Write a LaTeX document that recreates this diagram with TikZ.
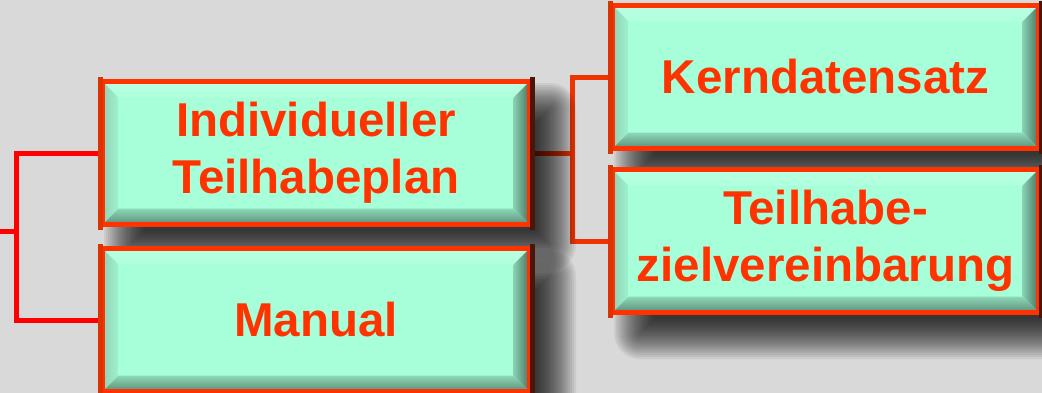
\documentclass[tikz,border=0pt]{standalone}
\usepackage{fontspec}
\setmainfont{Liberation Sans}
\usetikzlibrary{calc}

\definecolor{bgcol}{HTML}{D9D9D9}
\definecolor{face}{HTML}{A6FFD9}
\definecolor{boxedge}{HTML}{FF3300}
\definecolor{boxedgeleft}{HTML}{DD3300}
\definecolor{boxedgeright}{HTML}{4A1608}
\definecolor{label}{HTML}{FF3300}
\definecolor{wireleft}{HTML}{FF0000}
\definecolor{wireright}{HTML}{EE3300}

\pgfdeclarelayer{bg}
\pgfdeclarelayer{wires}
\pgfdeclarelayer{shade}
\pgfsetlayers{bg,wires,shade,main}

\newcommand{\bev}{16pt}

% soft drop shadow: a stack of faint rectangles, shifted right and down
\newcommand{\softshadow}[1]{%
  \begin{pgfonlayer}{shade}
    \foreach \i in {0,...,19}{
      \pgfmathsetmacro{\e}{20-40*\i/19}
      \pgfmathsetmacro{\rc}{max(\e+6,1)}
      \fill[black, fill opacity=0.062, rounded corners=\rc pt]
        ($(#1.north west)+(24-\e,24-\e)$) rectangle ($(#1.south east)+(24+\e,24+\e)$);
    }
  \end{pgfonlayer}}

\tikzset{
  bevelbox/.style={
    draw=boxedge, line width=5pt, fill=face,
    minimum width=427pt, minimum height=143pt, inner sep=0pt,
    text=label, align=center,
    font=\bfseries\fontsize{47.5}{57}\selectfont,
    path picture={
      \path (path picture bounding box.north west) coordinate (bnw)
            (path picture bounding box.north east) coordinate (bne)
            (path picture bounding box.south east) coordinate (bse)
            (path picture bounding box.south west) coordinate (bsw);
      % top face
      \shade[top color=face!80!white, middle color=white!85!cyan, bottom color=face!90!white]
        (bnw) -- (bne) -- ($(bne)+(-\bev,-\bev)$) -- ($(bnw)+(\bev,-\bev)$) -- cycle;
      % left face
      \shade[left color=face!80!black!90!white, right color=face!95!black]
        (bnw) -- ($(bnw)+(\bev,-\bev)$) -- ($(bsw)+(\bev,\bev)$) -- (bsw) -- cycle;
      % right face
      \shade[left color=face!82!black, right color=face!45!black]
        (bne) -- (bse) -- ($(bse)+(-\bev,\bev)$) -- ($(bne)+(-\bev,-\bev)$) -- cycle;
      % bottom face
      \shade[top color=face!85!black, bottom color=face!55!black]
        (bsw) -- ($(bsw)+(\bev,\bev)$) -- ($(bse)+(-\bev,\bev)$) -- (bse) -- cycle;
    }
  },
  edgeshade/.style={line width=5pt, line cap=rect},
  wire/.style={line width=5pt, line cap=rect, line join=miter}
}

\begin{document}
\begin{tikzpicture}[x=1pt, y=-1pt]
  \useasboundingbox (0,0) rectangle (1042,392);
  \begin{pgfonlayer}{bg}
    \fill[bgcol] (-10,-10) rectangle (1052,402);
  \end{pgfonlayer}

  % boxes
  \node[bevelbox] (itp) at (316,153) {Individueller\\Teilhabeplan};
  \draw[edgeshade, boxedgeleft] (itp.north west) -- (itp.south west);
  \draw[edgeshade, boxedgeright] (itp.north east) -- (itp.south east);
  \softshadow{itp}

  \node[bevelbox] (man) at (316,320) {Manual};
  \draw[edgeshade, boxedgeleft] (man.north west) -- (man.south west);
  \draw[edgeshade, boxedgeright] (man.north east) -- (man.south east);
  \softshadow{man}

  \node[bevelbox, minimum width=426pt] (kds) at (825.5,77) {Kerndatensatz};
  \draw[edgeshade, boxedgeleft] (kds.north west) -- (kds.south west);
  \draw[edgeshade, boxedgeright] (kds.north east) -- (kds.south east);
  \softshadow{kds}

  \node[bevelbox, minimum width=426pt] (tzv) at (825.5,241) {Teilhabe-\\zielvereinbarung};
  \draw[edgeshade, boxedgeleft] (tzv.north west) -- (tzv.south west);
  \draw[edgeshade, boxedgeright] (tzv.north east) -- (tzv.south east);
  \softshadow{tzv}

  % connectors
  \coordinate (root) at (0,231);
  \coordinate (lj) at (16,231);
  \coordinate (rj) at (572,153);
  \begin{pgfonlayer}{wires}
    \draw[wire, wireleft] (root) -- (lj);
    \draw[wire, wireleft] (itp.west) -| (lj);
    \draw[wire, wireleft] (man.west) -| (lj);
    \draw[wire, wireright] (itp.east) -- (rj);
    \draw[wire, wireright] (kds.west) -| (rj);
    \draw[wire, wireright] (tzv.west) -| (rj);
  \end{pgfonlayer}
\end{tikzpicture}
\end{document}
